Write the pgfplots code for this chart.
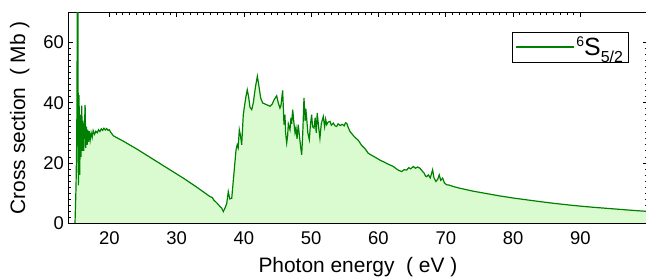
\documentclass[border=0pt]{standalone}
\usepackage{pgfplots}
\usepackage{pgfplotstable}
\pgfplotsset{compat=1.18}
\usepackage{fontspec}
\setmainfont{Liberation Sans}
\definecolor{lgreen}{RGB}{0,128,0}
\definecolor{fgreen}{RGB}{218,250,208}
\pgfplotstableread{
E v
14.90 0
15.05 12
15.16 28
15.25 75
15.33 75
15.40 12.5
15.50 42.5
15.60 16
15.70 36
15.80 22
15.90 39
16.00 24
16.10 34
16.20 24
16.30 31
16.40 39.3
16.50 25
16.60 32
16.70 26
16.80 31
16.90 27
17.00 30.5
17.15 27.5
17.30 30
17.45 28.5
17.60 30.7
17.80 29.5
18.00 30.5
18.20 30
18.40 31
18.60 30.4
18.80 31.3
19.00 30.8
19.20 31.5
19.40 30.9
19.60 31.4
19.80 30.8
20.00 31.0
20.20 30.2
20.40 29.6
20.60 29.0
21.00 28.5
22.00 27.3
23.00 26.0
24.00 24.7
25.00 23.3
26.00 21.9
27.00 20.5
28.00 19.1
29.00 17.7
30.00 16.3
31.00 14.9
32.00 13.4
33.00 11.9
34.00 10.3
34.50 9.5
35.00 8.7
35.30 8.5
35.50 7.7
36.00 6.6
36.40 5.6
36.70 4.9
36.94 3.8
37.20 5.0
37.45 6.5
37.68 10.4
37.90 8.0
38.19 8.2
38.50 16
38.83 24.3
39.00 26
39.15 25
39.32 31
39.50 29
39.67 26
39.91 36
40.10 39
40.30 42
40.50 44.3
40.70 42
40.90 38.5
41.16 37.7
41.40 40
41.70 45
42.00 48.8
42.20 46
42.50 41.5
42.80 39.9
43.20 39.5
43.50 39.2
43.88 38.8
44.20 39.5
44.50 41
44.87 42.3
45.10 40
45.36 38.2
45.50 39
45.76 44.1
45.96 32.7
46.10 36
46.20 30
46.36 26.6
46.50 29
46.60 33
46.85 31
47.00 35
47.10 33
47.25 37.7
47.40 34
47.60 30
47.74 31.6
47.90 28
48.08 32.7
48.30 28
48.45 25
48.59 22.7
48.75 30
48.93 41.6
49.10 34
49.20 38
49.33 34.9
49.50 30
49.72 27.7
49.90 33
50.07 36
50.20 32
50.42 31.6
50.60 35
50.75 30
50.90 36.6
51.10 32
51.30 28.2
51.50 33
51.80 35.4
52.00 32
52.15 34.5
52.30 32.7
52.50 33.5
52.80 33.8
53.00 32.5
53.30 33.2
53.55 32.3
53.79 32.1
54.00 33
54.30 32.4
54.60 32.8
54.90 32.3
55.10 33.3
55.27 33.2
55.50 31.8
55.77 30.4
56.00 29.8
56.40 28.7
57.00 27.5
57.50 25.8
58.00 24.7
58.48 23.2
59.00 22.5
59.70 21.6
60.30 20.8
60.80 20.3
61.30 19.7
61.80 19.2
62.20 18.8
62.60 18.1
63.00 17.5
63.45 17.1
63.80 17.7
64.20 17.6
64.50 18.4
64.80 18.0
65.17 18.8
65.50 18.2
65.80 18.6
66.17 18.2
66.50 17.3
66.80 16.5
67.00 15.6
67.16 15.4
67.40 16.0
67.70 15.0
68.05 17.7
68.25 15
68.54 13.8
68.80 14.5
69.03 16
69.25 14.2
69.54 14.9
69.80 13.3
70.13 12.7
70.50 12.6
71.00 12.2
72.00 11.6
73.00 11.1
74.00 10.6
75.00 10.2
76.00 9.8
77.00 9.4
78.00 9.0
80.00 8.3
82.00 7.7
84.00 7.1
86.00 6.55
88.00 6.05
90.00 5.6
92.00 5.2
94.00 4.85
96.00 4.5
98.00 4.15
100.00 3.85
}\datatable
\begin{document}
\begin{tikzpicture}
\begin{axis}[
  name=ax,
  scale only axis,
  width=579.4bp, height=210.5bp,
  xmin=13.9, xmax=100, ymin=0, ymax=70,
  xtick={20,30,...,90}, ytick={0,20,40,60},
  minor x tick num=9, minor y tick num=9,
  tick align=inside,
  major tick length=5bp, minor tick length=3bp,
  tick style={black, line width=0.6bp},
  axis line style={black, line width=0.9bp},
  /pgf/number format/assume math mode=true,
  ticklabel style={font=\fontsize{18.5}{20}\selectfont},
  xticklabel style={yshift=-5bp},
  yticklabel style={xshift=-1bp},
  xlabel={Photon energy\ \ ( eV )},
  ylabel={Cross section\ \ ( Mb )},
  label style={font=\fontsize{21}{23}\selectfont},
  xlabel style={yshift=-6bp},
  ylabel style={yshift=7bp},
  legend style={at={(0.9665,0.909)}, anchor=north east, draw=black,
    line width=0.6bp, inner xsep=3bp, inner ysep=3bp,
    font=\fontsize{25}{26}\selectfont},
  legend cell align=left,
  legend image code/.code={\draw[lgreen, line width=1.3bp] (0bp,0bp) -- (58bp,0bp);},
]
\addplot[fill=fgreen, draw=none, forget plot] table[x=E,y=v]{\datatable} \closedcycle;
\addplot[lgreen, line width=1.2bp] table[x=E,y=v]{\datatable};
\addlegendentry{{\fontsize{14}{14}\selectfont\raisebox{9bp}{6}}S{\fontsize{16}{16}\selectfont\raisebox{-7bp}{5/2}}}
\end{axis}
\pgfresetboundingbox
\path[use as bounding box] ([xshift=-68.3bp,yshift=-56bp]ax.south west) rectangle ([xshift=-1.6bp,yshift=12.5bp]ax.north east);
\end{tikzpicture}
\end{document}
